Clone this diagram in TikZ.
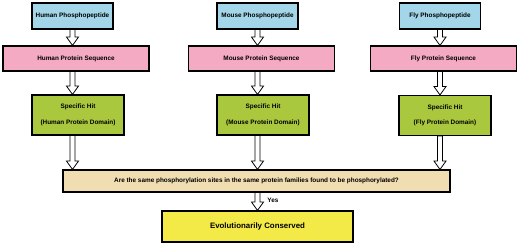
\documentclass[tikz,border=0pt]{standalone}
\usepackage{fontspec}
\setmainfont{Liberation Sans}
\usepackage{tikz}
\usetikzlibrary{
  calc,
  positioning
}
\usepackage{xcolor}
\definecolor{pepblue}{HTML}{A2D6E8}
\definecolor{seqpink}{HTML}{F4AAC3}
\definecolor{hitgreen}{HTML}{A9C83E}
\definecolor{asktan}{HTML}{F0DEB2}
\definecolor{consyellow}{HTML}{F3E947}
\tikzset{
  box/.style={
    rectangle, draw=black, fill=#1, line width=1.6pt,
    font=\bfseries\fontsize{9.1}{11}\selectfont, text centered, align=center
  },
  peptide/.style={box=pepblue, minimum width=4.05cm, minimum height=1.3cm},
  sequence/.style={box=seqpink, minimum width=7.3cm, minimum height=1.25cm},
  hit/.style={box=hitgreen, minimum width=4.6cm, minimum height=2cm},
  hollow/.style={draw=black, fill=white, line width=1.1pt, line join=miter},
}
% block arrow between two points, pointing down
\newcommand{\hollowarrow}[2]{%
  \draw[hollow] let \p1=#1, \p2=#2 in
    (\x1-0.12cm,\y1) -- (\x1+0.12cm,\y1) -- (\x1+0.12cm,\y2+0.42cm)
    -- (\x1+0.3cm,\y2+0.42cm) -- (\x1,\y2) -- (\x1-0.3cm,\y2+0.42cm)
    -- (\x1-0.12cm,\y2+0.42cm) -- cycle;}

\begin{document}
\begin{tikzpicture}[x=0.05cm, y=-0.05cm]
\useasboundingbox (0,0) rectangle (520,244);

% Phosphopeptides
\node[peptide] (hp) at (72.5,16) {Human Phosphopeptide};
\node[peptide] (mp) at (257.5,16) {Mouse Phosphopeptide};
\node[peptide] (fp) at (440,16) {Fly Phosphopeptide};

% Sequences
\node[sequence] (hs) at (76,58.5) {Human Protein Sequence};
\node[sequence] (ms) at (261.5,58.5) {Mouse Protein Sequence};
\node[sequence] (fs) at (443.5,58.5) {Fly Protein Sequence};

% Hits
\node[hit] (hh) at (78,115) {Specific Hit\\[2.3ex](Human Protein Domain)};
\node[hit] (mh) at (263,115) {Specific Hit\\[2.3ex](Mouse Protein Domain)};
\node[hit] (fh) at (445,115.5) {Specific Hit\\[2.3ex](Fly Protein Domain)};

% Question and result
\node[box=asktan, minimum width=19.35cm, minimum height=1.1cm] (q) at (256.5,181)
  {Are the same phosphorylation sites in the same protein families found to be phosphorylated?};
\node[box=consyellow, minimum width=9.55cm, minimum height=1.55cm,
  font=\bfseries\fontsize{11.2}{13}\selectfont] (c) at (257.5,226.5) {Evolutionarily Conserved};

% Arrows
\hollowarrow{(hp.south)}{(hs.north -| hp)}
\hollowarrow{(mp.south)}{(ms.north -| mp)}
\hollowarrow{(fp.south)}{(fs.north -| fp)}
\hollowarrow{(hs.south -| hp)}{(hh.north -| hp)}
\hollowarrow{(ms.south -| mp)}{(mh.north -| mp)}
\hollowarrow{(fs.south -| fp)}{(fh.north -| fp)}
\hollowarrow{(hh.south -| hp)}{(q.north -| hp)}
\hollowarrow{(mh.south -| mp)}{(q.north -| mp)}
\hollowarrow{(fh.south -| fp)}{(q.north -| fp)}
\hollowarrow{(q.south -| mp)}{(c.north -| mp)}
\node[font=\bfseries\fontsize{9.1}{11}\selectfont, anchor=west] (yes) at (265,200) {Yes};

\end{tikzpicture}
\end{document}
